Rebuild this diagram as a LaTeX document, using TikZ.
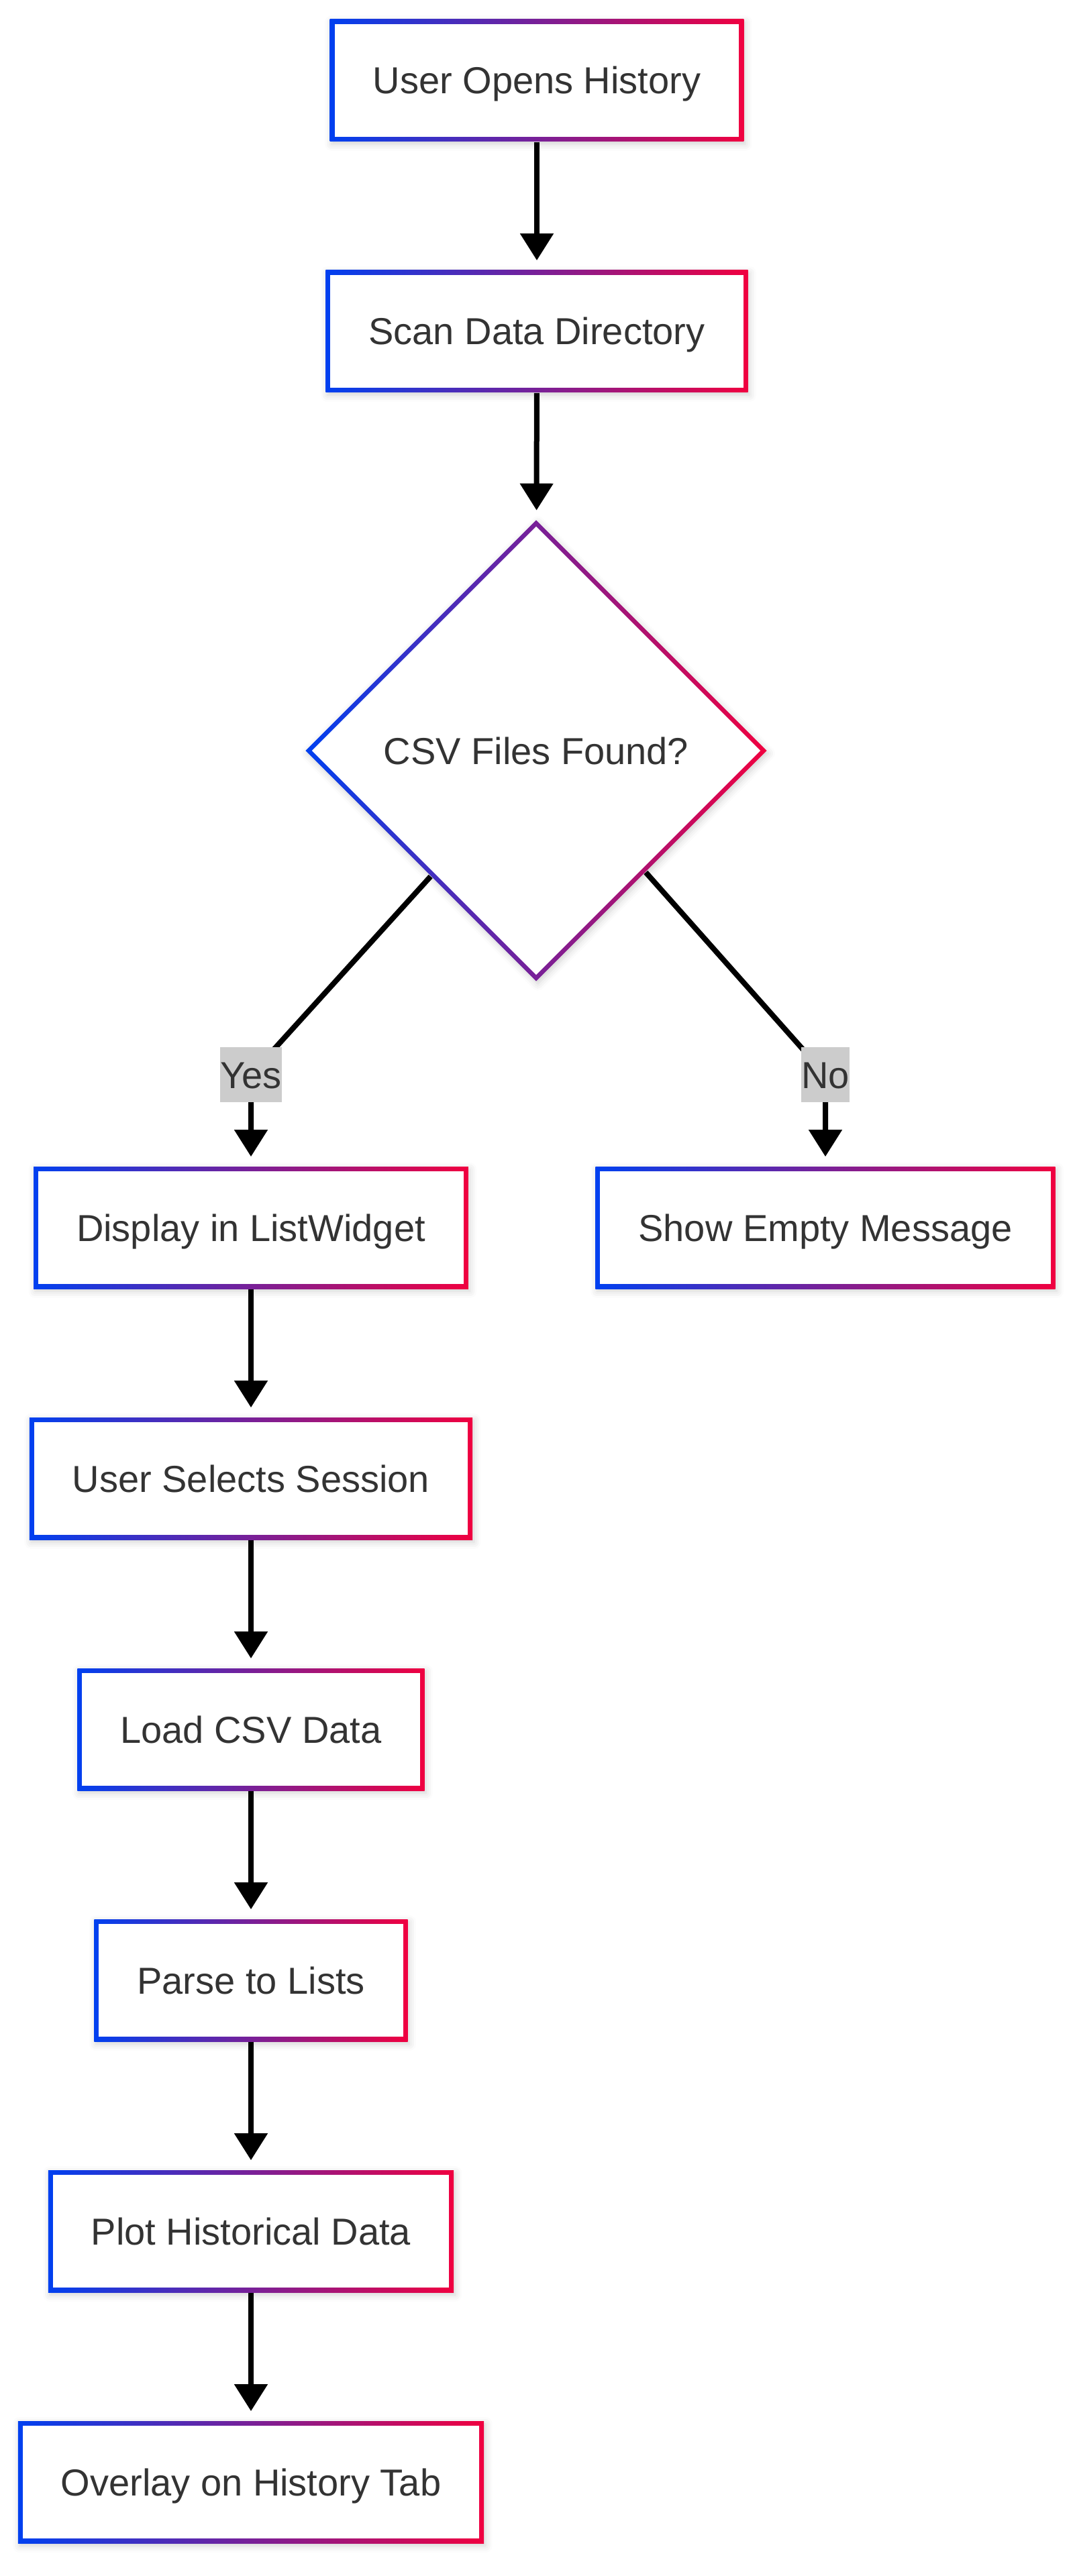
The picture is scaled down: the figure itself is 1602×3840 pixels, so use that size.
\documentclass[tikz,border=0pt]{standalone}
\usepackage{fontspec}
\setmainfont{Liberation Sans}
\usetikzlibrary{arrows.meta,shapes.geometric,shadows.blur,calc}
\definecolor{gblue}{RGB}{0,64,240}
\definecolor{gred}{RGB}{240,0,64}
\definecolor{txtgray}{RGB}{51,51,51}
\definecolor{lblgray}{RGB}{204,204,204}
\begin{document}
	\begin{tikzpicture}[x=0.25pt,y=-0.25pt,
		soft/.style={blur shadow={shadow xshift=0.6pt,shadow yshift=-1pt,shadow blur radius=2.5pt,shadow opacity=18}},
		box/.style={rectangle,soft,left color=gblue,right color=gred,minimum height=45.5pt,inner xsep=16pt,
			text height=10pt,text depth=0pt,text=txtgray,font=\fontsize{14}{16}\selectfont,
			path picture={\fill[white] ([shift={(1.75pt,-1.75pt)}]path picture bounding box.north west) rectangle ([shift={(-1.75pt,1.75pt)}]path picture bounding box.south east);}},
		decision/.style={diamond,aspect=1,soft,left color=gblue,right color=gred,minimum size=172pt,inner sep=0pt,
			text height=10pt,text depth=0pt,text=txtgray,font=\fontsize{14}{16}\selectfont,
			path picture={\fill[white] ($(path picture bounding box.north)+(0,-2.4pt)$) -- ($(path picture bounding box.east)+(-2.4pt,0)$) -- ($(path picture bounding box.south)+(0,2.4pt)$) -- ($(path picture bounding box.west)+(2.4pt,0)$) -- cycle;}},
		flow/.style={line width=2pt,-{Triangle[width=12pt,length=10pt]},shorten >=3.5pt},
		lbl/.style={fill=lblgray,text=txtgray,inner xsep=0pt,inner ysep=0pt,minimum height=20.5pt,
			text height=10pt,text depth=0pt,font=\fontsize{14}{16}\selectfont}]
		\useasboundingbox (0,0) rectangle (1602,3840);
		\node[box] (open) at (800,120) {User Opens History};
		\node[box] (scan) at (800,494) {Scan Data Directory};
		\node[decision] (found) at (799,1119) {CSV Files Found?};
		\node[box] (display) at (374,1830) {Display in ListWidget};
		\node[box] (empty) at (1230,1830) {Show Empty Message};
		\node[box] (select) at (374,2204) {User Selects Session};
		\node[box] (load) at (374,2578) {Load CSV Data};
		\node[box] (parse) at (374,2952) {Parse to Lists};
		\node[box] (plot) at (374,3326) {Plot Historical Data};
		\node[box] (overlay) at (374,3700) {Overlay on History Tab};
		\coordinate (yesbend) at (374,1602);
		\coordinate (nobend) at (1230,1602);
		\draw[flow] (open) -- (scan);
		\draw[flow] (scan) -- (found);
		\draw[flow] (found.230) -- (yesbend) node[lbl] {Yes} -- (display);
		\draw[flow] (found.-48) -- (nobend) node[lbl] {No} -- (empty);
		\draw[flow] (display) -- (select);
		\draw[flow] (select) -- (load);
		\draw[flow] (load) -- (parse);
		\draw[flow] (parse) -- (plot);
		\draw[flow] (plot) -- (overlay);
	\end{tikzpicture}
\end{document}
